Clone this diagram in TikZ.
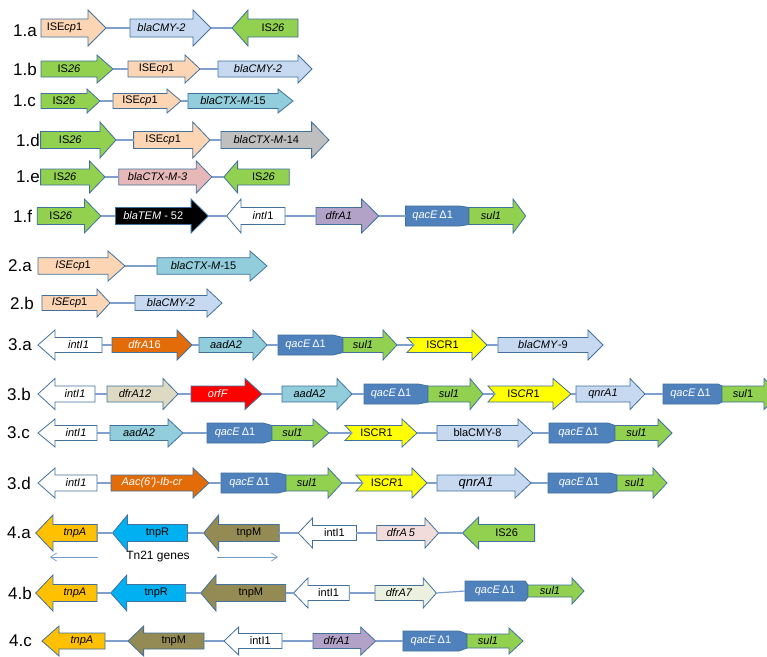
\documentclass[tikz,border=0pt]{standalone}
\usepackage{fontspec}
\setmainfont{Liberation Sans}
\usetikzlibrary{arrows.meta}
\definecolor{edgec}{HTML}{41719C}
\definecolor{linkc}{HTML}{7F9FCF}
\definecolor{peach}{HTML}{FCD5B5}
\definecolor{lblue}{HTML}{C6D9F1}
\definecolor{grn}{HTML}{92D050}
\definecolor{cteal}{HTML}{92CDDC}
\definecolor{gry}{HTML}{BFBFBF}
\definecolor{cpink}{HTML}{E6B9B8}
\definecolor{purp}{HTML}{B3A2C7}
\definecolor{qblue}{HTML}{4F81BD}
\definecolor{orng}{HTML}{E36C09}
\definecolor{yel}{HTML}{FFFF00}
\definecolor{ctan}{HTML}{DDD9C3}
\definecolor{rd}{HTML}{FF0000}
\definecolor{gold}{HTML}{FFC000}
\definecolor{sky}{HTML}{00B0F0}
\definecolor{colive}{HTML}{948A54}
\definecolor{palepink}{HTML}{F2DCDB}
\definecolor{palegreen}{HTML}{EBF1DE}
\def\bh{8}\def\hh{16}\def\qh{10}
% right arrow: [textcolor] name x0 xbody xtip y fill text
\newcommand\RA[8][black]{%
  \filldraw[gene,fill=#7] (#3,#6-\bh) -- (#4,#6-\bh) -- (#4,#6-\hh) -- (#5,#6) -- (#4,#6+\hh) -- (#4,#6+\bh) -- (#3,#6+\bh) -- cycle;
  \node[glabel,text=#1] (#2) at ({(#3+#4)/2},#6) {#8};
  \coordinate (#2-l) at (#3,#6);
  \coordinate (#2-r) at (#5,#6);}
% left arrow: [textcolor] xtip xbase xend y name fill text
\newcommand\LA[8][black]{%
  \filldraw[gene,fill=#7] (#2,#5) -- (#3,#5-\hh) -- (#3,#5-\bh) -- (#4,#5-\bh) -- (#4,#5+\bh) -- (#3,#5+\bh) -- (#3,#5+\hh) -- cycle;
  \node[glabel,text=#1] (#6) at ({(#3+#4)/2},#5) {#8};
  \coordinate (#6-l) at (#2,#5);
  \coordinate (#6-r) at (#4,#5);}
% qacE box: x0 xb xp y name
\newcommand\QA[5]{%
  \filldraw[gene,fill=qblue] (#1,#4-\qh) -- (#2,#4-\qh) -- (#3,#4-\bh) -- (#3,#4+\bh) -- (#2,#4+\qh) -- (#1,#4+\qh) -- cycle;
  \node[glabel,text=white] (#5) at ({(#1+#2)/2},#4) {\textit{qacE}\,Δ1};
  \coordinate (#5-l) at (#1,#4);
  \coordinate (#5-r) at (#3,#4);}
% notched arrow (ISCR1): x0 xb xt y name text
\newcommand\NA[6]{%
  \filldraw[gene,fill=yel] (#1,#4-\bh) -- (#2,#4-\bh) -- (#2,#4-\hh) -- (#3,#4) -- (#2,#4+\hh) -- (#2,#4+\bh) -- (#1,#4+\bh) -- (#1+7,#4) -- cycle;
  \node[glabel] (#5) at ({(#1+#2)/2+3},#4) {#6};
  \coordinate (#5-l) at (#1+7,#4);
  \coordinate (#5-r) at (#3,#4);}
\newcommand\lk[2]{\draw[link] (#1-r) -- (#2-l);}
\newcommand\rowlab[4]{\node[rowlabel] (#1) at (#2,#3) {#4};}
\begin{document}
\begin{tikzpicture}[x=1pt,y=-1pt,
  gene/.style={draw=edgec,line width=0.8pt,line join=miter},
  glabel/.style={inner sep=0pt,font=\fontsize{11}{13}\selectfont},
  link/.style={draw=linkc,line width=1.2pt},
  rowlabel/.style={anchor=west,inner sep=0pt,font=\fontsize{17}{20}\selectfont},
  annot/.style={draw=qblue!80,line width=0.7pt}]
\useasboundingbox (0,0) rectangle (767,656);
\clip (0,0) rectangle (767,656);
\fill[white] (0,0) rectangle (767,656);
% ---- 1.a
\def\bh{9}\def\hh{18}
\rowlab{L1a}{13}{31}{1.a}
\RA{a1}{41}{88}{106}{28}{peach}{ISE\textit{cp}1}
\RA{a2}{130}{193}{211}{28}{lblue}{\textit{blaCMY-2}}
\LA{232}{248}{298}{28}{a3}{grn}{IS\textit{26}}
\lk{a1}{a2}\lk{a2}{a3}
% ---- 1.b
\def\bh{8}\def\hh{14}
\rowlab{L1b}{13}{69}{1.b}
\RA{b1}{41}{97}{113}{69}{grn}{IS\textit{26}}
\RA{b2}{128}{185}{200}{69}{peach}{ISE\textit{cp}1}
\RA{b3}{218}{298}{312}{69}{lblue}{\textit{blaCMY-2}}
\lk{b1}{b2}\lk{b2}{b3}
% ---- 1.c
\def\bh{7.5}\def\hh{12}
\rowlab{L1c}{13}{101}{1.c}
\RA{c1}{41}{87}{100}{101}{grn}{IS\textit{26}}
\RA{c2}{113}{167}{181}{101}{peach}{ISE\textit{cp}1}
\RA{c3}{188}{278}{293}{101}{cteal}{\textit{blaCTX-M-}15}
\lk{c1}{c2}\lk{c2}{c3}
% ---- 1.d
\def\bh{8.5}\def\hh{18}
\rowlab{L1d}{16}{140}{1.d}
\RA{d1}{40.6}{100}{116}{140}{grn}{IS\textit{26}}
\RA{d2}{133.6}{192.8}{210}{140}{peach}{ISE\textit{cp}1}
\RA{d3}{221}{311.6}{329}{140}{gry}{\textit{blaCTX-M-}14}
\lk{d1}{d2}\lk{d2}{d3}
% ---- 1.e
\def\bh{8}\def\hh{16}
\rowlab{L1e}{16}{177}{1.e}
\RA{e1}{40.6}{89.5}{105}{177}{grn}{IS\textit{26}}
\RA{e2}{118.8}{196.3}{211.8}{177}{cpink}{\textit{blaCTX-M-3}}
\LA{223.8}{237.6}{289.3}{177}{e3}{grn}{IS\textit{26}}
\lk{e1}{e2}\lk{e2}{e3}
% ---- 1.f
\def\bh{8.5}\def\hh{17}
\rowlab{L1f}{13}{216}{1.f}
\RA{f1}{37.2}{84.4}{100.9}{216}{grn}{IS\textit{26}}
\RA[white]{f2}{115.4}{191.1}{208.3}{216}{black}{\textit{blaTEM} - 52}
\LA{226.6}{241}{285}{216}{f3}{white}{\textit{intI}1}
\RA{f4}{316}{361.6}{378.8}{216}{purp}{\textit{dfrA1}}
\QA{405.6}{459.7}{469}{216}{f5}
\RA{f6}{469}{513}{525.8}{216}{grn}{\textit{sul1}}
\lk{f1}{f2}\lk{f2}{f3}\lk{f3}{f4}\lk{f4}{f5}
% ---- 2.a
\def\bh{8.3}\def\hh{15}
\rowlab{L2a}{8}{266}{2.a}
\RA{g1}{38}{108}{125}{266}{peach}{\textit{ISEcp}1}
\RA{g2}{157}{250}{267}{266}{cteal}{\textit{blaCTX-M-}15}
\lk{g1}{g2}
% ---- 2.b
\def\bh{7.5}\def\hh{14}
\rowlab{L2b}{10}{303}{2.b}
\RA{h1}{42}{97}{110}{303}{peach}{\textit{ISEcp}1}
\RA{h2}{135}{207}{222}{303}{lblue}{\textit{blaCMY-2}}
\lk{h1}{h2}
% ---- 3.a
\def\bh{7.5}\def\hh{15}
\rowlab{L3a}{8}{345}{3.a}
\LA{38}{55}{102}{345}{i1}{white}{\textit{intI1}}
\RA[white]{i2}{112}{177}{192}{345}{orng}{\textit{dfrA}16}
\RA{i3}{199}{253}{267}{345}{cteal}{\textit{aadA2}}
\QA{278}{333}{343}{345}{i4}
\RA{i5}{343}{383}{397}{345}{grn}{\textit{sul1}}
\NA{407}{472}{487}{345}{i6}{ISCR1}
\RA{i7}{498}{588}{603}{345}{lblue}{\textit{blaCMY}-9}
\lk{i1}{i2}\lk{i2}{i3}\lk{i3}{i4}\lk{i5}{i6}\lk{i6}{i7}
% ---- 3.b
\def\bh{8}\def\hh{15.5}
\rowlab{L3b}{7}{394}{3.b}
\LA{38}{55}{95}{394}{j1}{white}{\textit{intI1}}
\RA{j2}{107}{163}{178}{394}{ctan}{\textit{dfrA12}}
\RA[white]{j3}{191}{245}{262}{394}{rd}{\textit{orfF}}
\RA{j4}{282}{337}{352}{394}{cteal}{\textit{aadA2}}
\QA{364}{418}{428}{394}{j5}
\RA{j6}{428}{470}{483}{394}{grn}{\textit{sul1}}
\NA{488}{553}{571}{394}{j7}{IS\textit{CR}1}
\RA{j8}{576}{630}{645}{394}{lblue}{\textit{qnrA1}}
\QA{663}{718}{722}{394}{j9}
\RA{j10}{722}{764}{779}{394}{grn}{\textit{sul}1}
\lk{j1}{j2}\lk{j2}{j3}\lk{j3}{j4}\lk{j4}{j5}\lk{j6}{j7}\lk{j7}{j8}\lk{j8}{j9}
% ---- 3.c
\def\bh{7.5}\def\hh{14}
\rowlab{L3c}{7}{433}{3.c}
\LA{38}{55}{97}{433}{k1}{white}{\textit{intI1}}
\RA{k2}{110}{168}{183}{433}{cteal}{\textit{aadA2}}
\QA{207}{263}{272}{433}{k3}
\RA{k4}{272}{313}{329}{433}{grn}{\textit{sul1}}
\NA{345}{402}{417}{433}{k5}{ISCR1}
\RA{k6}{437}{518}{533}{433}{lblue}{blaCMY-8}
\QA{549}{608}{615}{433}{k7}
\RA{k8}{615}{658}{672}{433}{grn}{\textit{sul1}}
\lk{k1}{k2}\lk{k2}{k3}\lk{k4}{k5}\lk{k5}{k6}\lk{k6}{k7}
% ---- 3.d
\def\bh{8}\def\hh{15}
\rowlab{L3d}{7}{483}{3.d}
\LA{38}{55}{97}{483}{l1}{white}{\textit{intI1}}
\RA[white]{l2}{111}{193}{209}{483}{orng}{\textit{Aac(6’)-Ib-cr}}
\QA{221}{278}{286}{483}{l3}
\RA{l4}{286}{328}{342}{483}{grn}{\textit{sul1}}
\NA{356}{412}{427}{483}{l5}{IS\textit{CR}1}
\RA{l6}{437}{515}{531}{483}{lblue}{\fontsize{13}{15}\selectfont\textit{qnrA1}}
\QA{548}{610}{617}{483}{l7}
\RA{l8}{617}{653}{667}{483}{grn}{\textit{sul1}}
\lk{l1}{l2}\lk{l2}{l3}\lk{l4}{l5}\lk{l5}{l6}\lk{l6}{l7}
% ---- 4.a
\def\bh{8.5}\def\hh{18}
\rowlab{L4a}{7}{533}{4.a}
\LA{35.7}{52.9}{97.1}{533}{m1}{gold}{\textit{tnpA}}
\LA{112.5}{127.5}{187.5}{533}{m2}{sky}{tnpR}
\LA{203.6}{218.6}{279.3}{533}{m3}{colive}{tnpM}
\def\bh{7.5}\def\hh{15}
\LA{298.2}{312.5}{356.4}{533}{m4}{white}{intI1}
\RA{m5}{376.8}{425}{438.6}{533}{palepink}{\textit{dfrA\,5}}
\def\bh{8.5}\def\hh{16}
\LA{462.5}{478.6}{534.6}{533}{m6}{grn}{IS26}
\lk{m1}{m2}\lk{m2}{m3}\lk{m3}{m4}\lk{m4}{m5}\lk{m5}{m6}
% Tn21 annotation
\node[glabel,font=\fontsize{12}{14}\selectfont] (tn) at (158,557) {Tn21 genes};
\coordinate (tnA) at (50,557);
\coordinate (tnB) at (98,557);
\coordinate (tnC) at (217,557);
\coordinate (tnD) at (278,557);
\draw[annot,-{Straight Barb[length=6pt,width=8pt]}] (tnB) -- (tnA);
\draw[annot,-{Straight Barb[length=6pt,width=8pt]}] (tnC) -- (tnD);
% ---- 4.b
\def\bh{8.5}\def\hh{18}
\rowlab{L4b}{8}{593}{4.b}
\LA{35.7}{52.9}{97}{593}{n1}{gold}{\textit{tnpA}}
\LA{110.7}{126.8}{185.7}{593}{n2}{sky}{tnpR}
\LA{200.7}{216}{285.7}{593}{n3}{colive}{tnpM}
\def\bh{7.5}\def\hh{15}
\LA{293.6}{307.9}{349.3}{593}{n4}{white}{intI1}
\RA{n5}{375}{423.2}{436.4}{593}{palegreen}{\textit{dfrA7}}
\def\bh{6}\def\hh{13}
\QA{465}{525}{528}{591}{n6}
\RA{n7}{528}{572}{584}{591}{grn}{\textit{sul1}}
\lk{n1}{n2}\lk{n2}{n3}\lk{n3}{n4}\lk{n4}{n5}\lk{n5}{n6}
% ---- 4.c
\def\bh{8}\def\hh{15}
\rowlab{L4c}{9}{641}{4.c}
\LA{42}{59}{105}{641}{o1}{gold}{\textit{tnpA}}
\LA{128}{143.6}{204}{641}{o2}{colive}{tnpM}
\def\bh{7.5}\def\hh{14}
\LA{224}{238.6}{282}{641}{o3}{white}{intI1}
\RA{o4}{313}{360.7}{375.7}{641}{purp}{\textit{dfrA1}}
\def\bh{7}\def\hh{13}
\QA{402.9}{459}{467}{641}{o5}
\RA{o6}{467}{509}{523}{641}{grn}{\textit{sul1}}
\lk{o1}{o2}\lk{o2}{o3}\lk{o3}{o4}\lk{o4}{o5}
\end{tikzpicture}
\end{document}
